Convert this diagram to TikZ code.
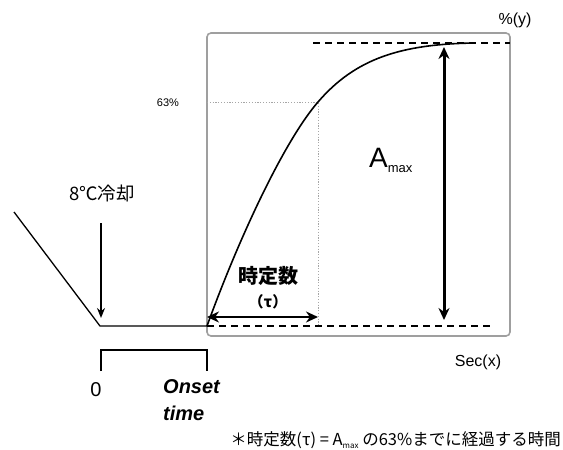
\documentclass[tikz,border=0pt]{standalone}
\usepackage{fontspec}
\setmainfont{Liberation Sans}
\newfontfamily\cjk{Noto Sans CJK JP}
\usetikzlibrary{arrows.meta}
\tikzset{
  txt/.style={inner sep=0pt, font=\fontsize{15}{17}\selectfont},
  thin line/.style={line width=1.3pt, black},
  bigarrow/.style={line width=3pt, {Stealth[length=12pt,width=11pt]}-{Stealth[length=12pt,width=11pt]}},
  dashline/.style={line width=1.3pt, dash pattern=on 7pt off 5pt},
  dotline/.style={line width=0.8pt, gray!70, dash pattern=on 1.2pt off 1.6pt},
  framebox/.style={draw=gray!75, line width=1.6pt, rounded corners=4pt},
}
\begin{document}
\begin{tikzpicture}[x=1pt,y=-1pt]
\useasboundingbox (0,0) rectangle (563,450);
% frame
\draw[framebox] (207,33) rectangle (510,336);
% coordinates
\coordinate (start) at (14,212);
\coordinate (cool) at (100,326);
\coordinate (onset) at (207,326);
\coordinate (tau) at (318,326);
\coordinate (p63) at (318,102);
\coordinate (p63l) at (207,102);
\coordinate (topl) at (313,43);
\coordinate (topr) at (510,43);
\coordinate (botr) at (493,326);
\coordinate (atop) at (444,47);
\coordinate (abot) at (444,320);
\coordinate (tauL) at (207,317);
\coordinate (tauR) at (318,317);
\coordinate (cend) at (475,43);
% dashed lines
\draw[dashline] (topl) -- (topr);
\draw[dashline] (onset) -- (botr);
% dotted 63% lines
\draw[dotline] (p63l) -- (p63) -- (tau);
% baseline
\draw[thin line] (start) -- (cool) -- (onset);
% curve
\draw[line width=1.6pt] (onset) .. controls (240,235) and (285,140) .. (p63)
  .. controls (355,59) and (400,44) .. (cend);
% arrows
\draw[bigarrow] (atop) -- (abot);
\draw[bigarrow, line width=2.8pt] (tauL) -- (tauR);
% labels
\node[txt, font=\fontsize{18.5}{20}\selectfont\cjk] (cooltxt) at (102,193) {8℃冷却};
\coordinate (coolA) at (101,223);
\coordinate (coolB) at (101,318);
\draw[line width=1.5pt, -{Stealth[length=10pt,width=8pt]}] (coolA) -- (coolB);
% bracket
\coordinate (b1) at (101,371);
\coordinate (b2) at (101,350);
\coordinate (b3) at (207,350);
\coordinate (b4) at (207,371);
\draw[line width=1.3pt] (b1) -- (b2) -- (b3) -- (b4);
\node[txt, font=\fontsize{20}{22}\selectfont] (zero) at (96,390) {0};
\node[txt, anchor=west, font=\fontsize{20}{22}\selectfont\bfseries\itshape] (onsettxt) at (163,387) {Onset};
\node[txt, anchor=west, font=\fontsize{20}{22}\selectfont\bfseries\itshape] (timetxt) at (163,413) {time};
\node[txt, font=\fontsize{11}{12}\selectfont] (p63txt) at (168,103) {63\%};
\node[txt, font=\fontsize{16}{18}\selectfont] (ytxt) at (515,20) {\%(y)};
\node[txt, font=\fontsize{16}{18}\selectfont] (xtxt) at (478,362) {Sec(x)};
\node[txt, anchor=base west, font=\fontsize{28}{30}\selectfont] (amax) at (369,167) {A\raisebox{-5pt}{\fontsize{13}{14}\selectfont max}};
\node[txt, font=\fontsize{20}{22}\selectfont\cjk\bfseries] (tc) at (268,276) {時定数};
\node[txt, font=\fontsize{15}{17}\selectfont\cjk\bfseries] (tctau) at (268,302) {（τ）};
\node[txt, anchor=east, font=\fontsize{16.5}{18}\selectfont\cjk] (note) at (561,440) {＊時定数(τ) = A\raisebox{-3pt}{\fontsize{8}{9}\selectfont max} の63\%までに経過する時間};
\end{tikzpicture}
\end{document}
